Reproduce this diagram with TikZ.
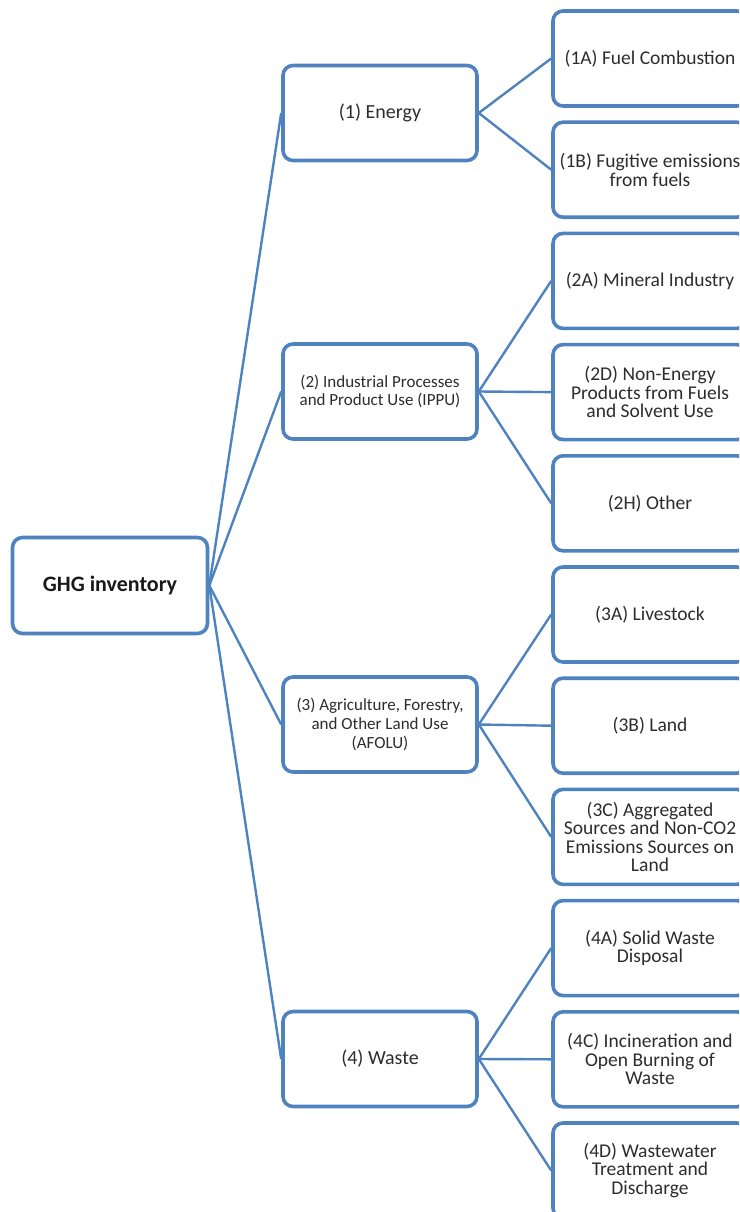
\documentclass[tikz,border=0pt]{standalone}
\usepackage{fontspec}
\setmainfont{Carlito}
\definecolor{boxblue}{RGB}{79,131,192}
\definecolor{txtgray}{RGB}{45,45,45}
\tikzset{
  box/.style={draw=boxblue, line width=3.6pt, rounded corners=10pt, fill=white,
    minimum width=194pt, minimum height=95pt, align=center, inner sep=2pt,
    text=txtgray},
  rootbox/.style={box, minimum width=195pt, minimum height=96pt,
    font=\fontsize{22}{24}\selectfont\bfseries, text=black!90},
  topicbig/.style={box, font=\fontsize{20}{21}\selectfont},
  topicsmall/.style={box, font=\fontsize{17}{18.7}\selectfont},
  leafbox/.style={box, font=\fontsize{19.5}{18.6}\selectfont},
  link/.style={draw=boxblue, line width=2.4pt}
}
\begin{document}
\begin{tikzpicture}[x=1pt, y=-1pt]
\useasboundingbox (0,0) rectangle (739,1212);
\clip (0,0) rectangle (739,1212);

% root
\node[rootbox] (root) at (110,585.5) {GHG inventory};

% sectors
\node[topicbig]   (energy) at (380,113)   {(1) Energy};
\node[topicsmall] (ippu)   at (380,391.5) {(2) Industrial Processes\\and Product Use (IPPU)};
\node[topicsmall] (afolu)  at (380,724.5) {(3) Agriculture, Forestry,\\and Other Land Use\\(AFOLU)};
\node[topicbig]   (waste)  at (380,1059)  {(4) Waste};

% categories
\node[leafbox] (c1A) at (650,58.5)   {(1A) Fuel Combustion};
\node[leafbox] (c1B) at (650,169.7)  {(1B) Fugitive emissions\\from fuels};
\node[leafbox] (c2A) at (650,280.9)  {(2A) Mineral Industry};
\node[leafbox] (c2D) at (650,392.1)  {(2D) Non-Energy\\Products from Fuels\\and Solvent Use};
\node[leafbox] (c2H) at (650,503.3)  {(2H) Other};
\node[leafbox] (c3A) at (650,614.5)  {(3A) Livestock};
\node[leafbox] (c3B) at (650,725.7)  {(3B) Land};
\node[leafbox] (c3C) at (650,836.9)  {(3C) Aggregated\\Sources and Non-CO2\\Emissions Sources on\\Land};
\node[leafbox] (c4A) at (650,948.1)  {(4A) Solid Waste\\Disposal};
\node[leafbox] (c4C) at (650,1059.3) {(4C) Incineration and\\Open Burning of\\Waste};
\node[leafbox] (c4D) at (650,1170.5) {(4D) Wastewater\\Treatment and\\Discharge};

% connectors from each parent's right side to each child's left side
\foreach \s in {energy,ippu,afolu,waste}
  \path[link] (root.east) -- (\s.west);
\foreach \c in {c1A,c1B}
  \path[link] (energy.east) -- (\c.west);
\foreach \c in {c2A,c2D,c2H}
  \path[link] (ippu.east) -- (\c.west);
\foreach \c in {c3A,c3B,c3C}
  \path[link] (afolu.east) -- (\c.west);
\foreach \c in {c4A,c4C,c4D}
  \path[link] (waste.east) -- (\c.west);
\end{tikzpicture}
\end{document}
